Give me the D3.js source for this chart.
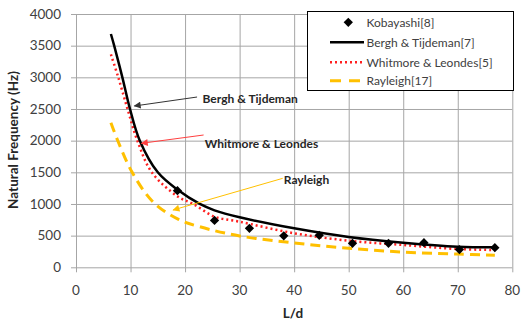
<!DOCTYPE html>
<html>
<head>
<meta charset="utf-8">
<script src="https://cdn.jsdelivr.net/npm/d3@7"></script>
<style>
  body { margin: 0; background: #fff; }
  text { font-family: Lato, "Open Sans", sans-serif; }
</style>
</head>
<body>
<div id="chart"></div>
<script>
// values
var kobayashi = [[18.6, 1210], [25.4, 740], [31.8, 616], [38.1, 497], [44.6, 505],
    [50.7, 379], [57.3, 379], [63.8, 389], [70.3, 280], [76.8, 310]]

var bergh = [[6.4, 3684], [7, 3500], [8.5, 3000], [9.9, 2500], [11.7, 2000], [15, 1500],
    [18.7, 1220], [22.7, 1000], [25.4, 900], [30, 790], [40, 616], [50, 480],
    [60, 389], [70, 325], [76.8, 316]]

var whitmore = [[6.4, 3363], [7.75, 3000], [9.45, 2500], [11.25, 2000], [13.9, 1500],
    [18.7, 1115], [21.5, 1000], [25.4, 800], [30, 720], [40, 537], [50, 420],
    [60, 352], [70, 289], [76.8, 273]]

var rayleigh = [[6.4, 2283], [7.7, 1990], [10.3, 1500], [14.15, 1030], [18.7, 760],
    [22.7, 640], [30, 495], [40, 385], [50, 300], [60, 240], [70, 210], [76.8, 190]]

var xTicks = [0, 10, 20, 30, 40, 50, 60, 70, 80]
var yTicks = [0, 500, 1000, 1500, 2000, 2500, 3000, 3500, 4000]

var legendNames = ['Kobayashi[8]', 'Bergh & Tijdeman[7]', 'Whitmore & Leondes[5]', 'Rayleigh[17]']

// annotation labels: [label, text x, text y, arrow tail x, y, arrow tip x, y, colour]
var notes = [
    ['Bergh & Tijdeman', 23.2, 2658, 22.2, 2689, 10.7, 2547, '#333'],
    ['Whitmore & Leondes', 23.6, 1958, 23.4, 2089, 12.0, 1958, '#ff4040'],
    ['Rayleigh', 38.1, 1378, 37.9, 1405, 17.8, 905, '#ffc000']
]

var width = 529
var height = 324
var pL = 76, pT = 14, pR = 512.3, pB = 267.3

var x = d3.scaleLinear().domain([0, 80]).range([pL, pR])
var y = d3.scaleLinear().domain([0, 4000]).range([pB, pT])

var svg = d3.select('#chart').append('svg')
    .attr('width', width)
    .attr('height', height)

// arrowheads
var defs = svg.append('defs')
notes.forEach(function (n, i) {
    defs.append('marker')
        .attr('id', 'arr' + i)
        .attr('viewBox', '0 0 10 10')
        .attr('refX', 9).attr('refY', 5)
        .attr('markerWidth', 9).attr('markerHeight', 7)
        .attr('markerUnits', 'userSpaceOnUse')
        .attr('orient', 'auto')
        .append('path')
        .attr('d', 'M0,0L10,5L0,10z')
        .style('fill', n[7])
})

// grid
svg.append('g')
    .attr('transform', 'translate(0,' + pB + ')')
    .call(d3.axisBottom(x).tickValues(xTicks).tickSizeOuter(0).tickFormat(''))
    .call(function (g) {
        g.select('.domain').remove()
        g.selectAll('line').style('stroke', '#a6a6a6')
            .attr('y2', -(pB - pT)).attr('y1', 5)
    })
svg.append('g')
    .attr('transform', 'translate(' + pL + ',0)')
    .call(d3.axisLeft(y).tickValues(yTicks).tickSizeOuter(0).tickFormat(''))
    .call(function (g) {
        g.select('.domain').remove()
        g.selectAll('line').style('stroke', '#a6a6a6')
            .attr('x1', -5).attr('x2', pR - pL)
    })

// tick labels
svg.selectAll('.xlab').data(xTicks).enter().append('text')
    .attr('x', function (d) { return x(d) })
    .attr('y', 295)
    .attr('text-anchor', 'middle')
    .style('font-size', '13.5px')
    .style('fill', '#404040')
    .text(function (d) { return d })
svg.selectAll('.ylab').data(yTicks).enter().append('text')
    .attr('x', 61)
    .attr('y', function (d) { return y(d) + 4.8 })
    .attr('text-anchor', 'end')
    .style('font-size', '13.5px')
    .style('fill', '#404040')
    .text(function (d) { return d })

// axis titles
svg.append('text')
    .attr('transform', 'translate(17.5,140) rotate(-90)')
    .attr('text-anchor', 'middle')
    .style('font-size', '13.5px')
    .style('font-weight', 'bold')
    .style('fill', '#262626')
    .text('Natural Frequency (Hz)')
svg.append('text')
    .attr('x', 293).attr('y', 318)
    .attr('text-anchor', 'middle')
    .style('font-size', '13.5px')
    .style('font-weight', 'bold')
    .style('fill', '#262626')
    .text('L/d')

// curves
var line = d3.line()
    .x(function (d) { return x(d[0]) })
    .y(function (d) { return y(d[1]) })
    .curve(d3.curveCatmullRom.alpha(0.5))

svg.append('path').datum(rayleigh)
    .attr('d', line)
    .style('fill', 'none').style('stroke', '#ffc000')
    .style('stroke-width', 3).style('stroke-dasharray', '10,6')
svg.append('path').datum(whitmore)
    .attr('d', line)
    .style('fill', 'none').style('stroke', '#ff2020')
    .style('stroke-width', 2.5).style('stroke-dasharray', '2,3')
svg.append('path').datum(bergh)
    .attr('d', line)
    .style('fill', 'none').style('stroke', '#000')
    .style('stroke-width', 2.5)

var diamond = d3.symbol().type(d3.symbolDiamond2).size(55)
svg.selectAll('.pt').data(kobayashi).enter().append('path')
    .attr('d', diamond)
    .attr('transform', function (d) { return 'translate(' + x(d[0]) + ',' + y(d[1]) + ')' })
    .style('fill', '#000')

// annotations
notes.forEach(function (n, i) {
    svg.append('line')
        .attr('x1', x(n[3])).attr('y1', y(n[4]))
        .attr('x2', x(n[5])).attr('y2', y(n[6]))
        .style('stroke', n[7]).style('stroke-width', 1)
        .attr('marker-end', 'url(#arr' + i + ')')
    svg.append('text')
        .attr('x', x(n[1])).attr('y', y(n[2]) + 4.3)
        .style('font-size', '12px')
        .style('font-weight', 'bold')
        .style('fill', '#262626')
        .text(n[0])
})

// legend
var lg = svg.append('g')
lg.append('rect')
    .attr('x', 307.5).attr('y', 11.5).attr('width', 206).attr('height', 79)
    .style('fill', '#fff').style('stroke', '#000').style('stroke-width', 1)
var rowsY = [22.3, 42.3, 62.3, 80.7]
lg.selectAll('.lt').data(legendNames).enter().append('text')
    .attr('x', 366.5)
    .attr('y', function (d, i) { return rowsY[i] + 4.3 })
    .style('font-size', '12px')
    .style('fill', '#404040')
    .text(function (d) { return d })
lg.append('path').attr('d', diamond)
    .attr('transform', 'translate(348.3,' + rowsY[0] + ')')
    .style('fill', '#000')
lg.append('line').attr('x1', 330).attr('x2', 364).attr('y1', rowsY[1]).attr('y2', rowsY[1])
    .style('stroke', '#000').style('stroke-width', 2.5)
lg.append('line').attr('x1', 330).attr('x2', 364).attr('y1', rowsY[2]).attr('y2', rowsY[2])
    .style('stroke', '#ff2020').style('stroke-width', 2.5).style('stroke-dasharray', '2,3')
lg.append('line').attr('x1', 330).attr('x2', 364).attr('y1', rowsY[3]).attr('y2', rowsY[3])
    .style('stroke', '#ffc000').style('stroke-width', 3).style('stroke-dasharray', '11,8')
</script>
</body>
</html>
